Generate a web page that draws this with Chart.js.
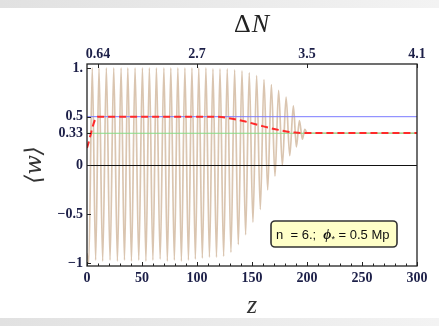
<!DOCTYPE html>
<html lang="en">
<head>
<meta charset="UTF-8">
<title>Mean equation of state</title>
<style>
  html, body { margin: 0; padding: 0; background: #fff; }
  .wrap { position: relative; width: 439px; height: 326px; overflow: hidden; }
  canvas { display: block; }
  .band { position: absolute; left: 0; width: 439px; height: 8px; background: linear-gradient(to right, #e1e1e1, #f3f3f3); }
</style>
</head>
<body>
<div class="wrap">
  <canvas id="chart" width="439" height="326"></canvas>
  <div class="band" style="top:0"></div>
  <div class="band" style="bottom:0"></div>
</div>
<script src="https://cdn.jsdelivr.net/npm/chart.js"></script>
<script>
// turning points of the oscillating <w>(z)
const oscZ = [0, 1.6,
  4.8, 7.85, 10.9, 14.25, 17.6, 20.95, 24.3, 27.65, 31.0, 34.05,
  37.1, 40.4, 43.7, 47.05, 50.4, 53.55, 56.7, 59.9, 63.1, 66.5,
  69.9, 73.05, 76.2, 79.4, 82.6, 85.8, 89.0, 92.2, 95.4, 98.5,
  101.6, 104.85, 108.1, 111.3, 114.5, 117.7, 120.9, 124.2, 127.5, 130.85,
  134.2, 137.55, 140.9, 144.2, 147.5, 150.85, 154.2, 157.55, 160.9, 164.25,
  167.6, 170.9, 174.2, 177.6, 181.0, 184.3, 187.6, 190.35, 193.1, 195.8,
  198.0, 200, 300];
const oscW = [-0.9, -1.0,
  1.0, -0.97, 1.0, -0.98, 1.0, -0.97, 1.0, -0.98, 1.0, -0.97,
  1.0, -0.98, 1.0, -0.97, 1.0, -0.98, 1.0, -0.97, 1.0, -0.96,
  1.0, -0.98, 1.0, -0.97, 1.0, -0.98, 1.0, -0.97, 1.0, -0.96,
  1.0, -0.95, 1.0, -0.94, 0.99, -0.94, 0.99, -0.93, 0.99, -0.89,
  0.98, -0.81, 0.97, -0.71, 0.95, -0.58, 0.92, -0.45, 0.88, -0.25,
  0.83, -0.11, 0.77, 0.0, 0.70, 0.10, 0.61, 0.19, 0.46, 0.27,
  0.37, 0.333, 0.333];

// running mean (red dashed)
const meanZ = [0, 9.5, 117, 129, 144, 159, 174, 189, 200, 300];
const meanW = [0.18, 0.5, 0.5, 0.485, 0.45, 0.405, 0.365, 0.337, 0.333, 0.333];

// reference levels
const levelHalf = 0.5;
const levelThird = 0.33;
const levelZero = 0;

const bottomTicks = [0, 50, 100, 150, 200, 250, 300];
const topTickZ = [10, 100, 200, 300];
const topTickLabels = ['0.64', '2.7', '3.5', '4.1'];
const yTicks = [-1, -0.5, 0, 0.33, 0.5, 1];
const yTickLabels = ['\u22121', '\u22120.5', '0', '0.33', '0.5', '1.'];

const tickColor = '#1c1f48';
const tickFont = { family: "'Liberation Serif', serif", size: 14, weight: 'bold' };

function pts(xs, ys) {
  return xs.map((x, i) => ({ x: x, y: ys[i] }));
}
function flat(level) {
  return [{ x: 0, y: level }, { x: 300, y: level }];
}

// frame, inward ticks, top title and the parameter box
const framePlugin = {
  id: 'frame',
  afterDraw(chart) {
    const ctx = chart.ctx;
    const a = chart.chartArea;
    const sx = chart.scales.x, sy = chart.scales.y;
    ctx.save();
    ctx.strokeStyle = '#222';
    ctx.lineWidth = 1.3;
    ctx.strokeRect(a.left, a.top, a.right - a.left, a.bottom - a.top);
    ctx.lineWidth = 1;
    ctx.beginPath();
    for (let v = 0; v <= 300; v += 10) {
      const px = Math.round(sx.getPixelForValue(v)) + 0.5;
      const len = v % 50 === 0 ? 4 : 2.5;
      ctx.moveTo(px, a.bottom);
      ctx.lineTo(px, a.bottom - len);
    }
    topTickZ.forEach(v => {
      const px = Math.round(sx.getPixelForValue(v)) + 0.5;
      ctx.moveTo(px, a.top);
      ctx.lineTo(px, a.top + 4);
    });
    yTicks.forEach(v => {
      const py = Math.round(sy.getPixelForValue(v)) + 0.5;
      ctx.moveTo(a.left, py);
      ctx.lineTo(a.left + 4, py);
    });
    ctx.stroke();

    // top axis title: upright Delta, italic N
    ctx.fillStyle = '#222';
    ctx.textBaseline = 'alphabetic';
    ctx.font = "26px 'Liberation Serif', serif";
    const dW = ctx.measureText('\u0394').width;
    ctx.font = "italic 26px 'Liberation Serif', serif";
    const nW = ctx.measureText('N').width;
    let hx = (a.left + a.right) / 2 - (dW + nW) / 2 - 1;
    ctx.font = "26px 'Liberation Serif', serif";
    ctx.fillText('\u0394', hx, 32);
    ctx.font = "italic 26px 'Liberation Serif', serif";
    ctx.fillText('N', hx + dW + 1, 32);

    // parameter box
    const bx = 271, by = 221, bw = 126, bh = 26;
    ctx.beginPath();
    ctx.roundRect(bx, by, bw, bh, 4);
    ctx.fillStyle = '#ffffc8';
    ctx.fill();
    ctx.lineWidth = 1.6;
    ctx.strokeStyle = '#333';
    ctx.stroke();

    ctx.fillStyle = '#111';
    let tx = bx + 5;
    const ty = by + 18;
    const parts = [
      ['n  = 6.;  ', "13px 'Liberation Sans', sans-serif", 0],
      ['\u03d5', "italic bold 14px 'Liberation Serif', serif", 0],
      ['*', "9px 'Liberation Sans', sans-serif", 3],
      [' = 0.5 Mp', "13px 'Liberation Sans', sans-serif", 0]
    ];
    parts.forEach(p => {
      ctx.font = p[1];
      ctx.fillText(p[0], tx, ty + p[2]);
      tx += ctx.measureText(p[0]).width;
    });
    ctx.restore();
  }
};

new Chart(document.getElementById('chart'), {
  type: 'scatter',
  data: {
    datasets: [
      {
        data: pts(meanZ, meanW),
        showLine: true, borderColor: '#ff2a2a', borderWidth: 2,
        borderDash: [7, 4], pointRadius: 0, cubicInterpolationMode: 'monotone', order: 0
      },
      {
        data: flat(levelHalf),
        showLine: true, borderColor: '#7a7aff', borderWidth: 1, pointRadius: 0, order: 1
      },
      {
        data: flat(levelThird),
        showLine: true, borderColor: '#86dc86', borderWidth: 1.1, pointRadius: 0, order: 2
      },
      {
        data: flat(levelZero),
        showLine: true, borderColor: '#111', borderWidth: 1.2, pointRadius: 0, order: 3
      },
      {
        data: pts(oscZ, oscW),
        showLine: true, borderColor: 'rgba(216,194,172,0.95)', borderWidth: 1.7,
        pointRadius: 0, cubicInterpolationMode: 'monotone', order: 4
      }
    ]
  },
  options: {
    responsive: false,
    animation: false,
    devicePixelRatio: 1,
    events: [],
    layout: { padding: { left: 0, right: 22, top: 0, bottom: 0 } },
    plugins: { legend: { display: false }, tooltip: { enabled: false } },
    scales: {
      x: {
        type: 'linear', position: 'bottom', min: 0, max: 300,
        afterBuildTicks: s => { s.ticks = bottomTicks.map(v => ({ value: v })); },
        afterFit: s => { s.height = 60; },
        grid: { display: false, drawTicks: false },
        border: { display: false },
        ticks: { color: tickColor, font: tickFont, padding: 4, autoSkip: false, maxRotation: 0 },
        title: {
          display: true, text: 'z', color: '#333',
          font: { family: "'Liberation Serif', serif", size: 26, style: 'italic' },
          padding: { top: 4, bottom: 4 }
        }
      },
      x2: {
        type: 'linear', position: 'top', min: 0, max: 300,
        afterBuildTicks: s => { s.ticks = topTickZ.map(v => ({ value: v })); },
        afterFit: s => { s.height = 64; },
        grid: { display: false, drawTicks: false },
        border: { display: false },
        ticks: {
          color: tickColor, font: tickFont, padding: 1, autoSkip: false, maxRotation: 0,
          callback: (v, i) => topTickLabels[i]
        }
      },
      y: {
        type: 'linear', position: 'left', min: -1.03, max: 1.04,
        afterBuildTicks: s => { s.ticks = yTicks.map(v => ({ value: v })); },
        afterFit: s => { s.width = 87; },
        grid: { display: false, drawTicks: false },
        border: { display: false },
        ticks: {
          color: tickColor, font: tickFont, padding: 4, autoSkip: false,
          callback: (v, i) => yTickLabels[i]
        },
        title: {
          display: true, text: '\u27e8w\u27e9', color: '#333',
          font: { family: "'DejaVu Serif', serif", size: 23, style: 'italic' },
          padding: { top: 21, bottom: 21 }
        }
      }
    }
  },
  plugins: [framePlugin]
});
</script>
</body>
</html>
